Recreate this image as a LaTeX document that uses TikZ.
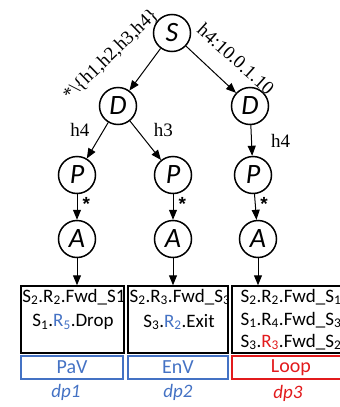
\documentclass[tikz,border=0pt]{standalone}
\usepackage{fontspec}
\setmainfont{Liberation Serif}
\newfontfamily\calfont{Carlito}
\newfontfamily\arfont{Liberation Sans}
\usetikzlibrary{arrows.meta}
\definecolor{vblue}{RGB}{68,114,196}
\definecolor{lred}{RGB}{226,26,28}
\newcommand{\subn}[1]{\textsubscript{#1}}

\begin{document}
\begin{tikzpicture}[x=1pt,y=-1pt,
	st/.style={circle,draw,line width=1.5pt,minimum size=37pt,inner sep=0pt,font=\calfont\itshape\fontsize{28}{28}\selectfont},
	arr/.style={line width=1pt,-{Triangle[length=10pt,width=8pt]}},
	lab/.style={font=\fontsize{19}{19}\selectfont,inner sep=0pt},
	ast/.style={font=\arfont\bfseries\fontsize{19}{19}\selectfont,inner sep=0pt,yshift=-6pt},
	rulebox/.style={draw,line width=1.5pt,inner sep=0pt,minimum height=67pt},
	tagbox/.style={draw,line width=1.2pt,inner sep=0pt,minimum height=23pt,font=\calfont\fontsize{20}{20}\selectfont},
	rl/.style={font=\calfont\fontsize{19}{19}\selectfont,inner sep=0pt},
	dp/.style={font=\calfont\itshape\fontsize{19}{19}\selectfont,inner sep=0pt}]
		\useasboundingbox (0,0) rectangle (340,407);
		\clip (0,0) rectangle (340,407);
		% tree
		\node[st] (S) at (172,33) {S};
		\node[st] (Dl) at (118,106) {D};
		\node[st] (Dr) at (250,106) {D};
		\node[st] (Pl) at (77,175) {P};
		\node[st] (Pm) at (173,175) {P};
		\node[st] (Pr) at (253,175) {P};
		\node[st] (Al) at (77,239) {A};
		\node[st] (Am) at (173,239) {A};
		\node[st] (Ar) at (258,239) {A};
		\node[lab,rotate=44] (hl) at (111,55) {*\textbackslash\{h1,h2,h3,h4\}}; %S->D links
		\node[lab,rotate=-42] (hr) at (236,59) {h4:10.0.1.10};
		\draw[arr] (S) -- (Dl);
		\draw[arr] (S) -- (Dr);
		\draw[arr] (Dl) -- node[lab,pos=.2,left=14pt]{h4} (Pl);
		\draw[arr] (Dl) -- node[lab,pos=.24,right=16pt]{h3} (Pm);
		\draw[arr] (Dr) -- node[lab,pos=.5,right=19pt]{h4} (Pr);
		\draw[arr] (Pl) -- node[ast,pos=.15,right=5pt]{*} (Al);
		\draw[arr] (Pm) -- node[ast,pos=.15,right=5pt]{*} (Am);
		\draw[arr] (Pr) -- node[ast,pos=.15,right=5pt]{*} (Ar);
		% rule boxes
		\node[rulebox,minimum width=103pt] (b1) at (72.5,319.5) {};
		\node[rulebox,minimum width=100pt] (b2) at (178,319.5) {};
		\node[rulebox,minimum width=118pt] (b3) at (291,319.5) {};
		\draw[arr] (Al) -- (Al |- b1.north);
		\draw[arr] (Am) -- (Am |- b2.north);
		\draw[arr] (Ar) -- (Ar |- b3.north);
		\begin{scope}
			\clip (b1.south west) rectangle (b1.north east);
			\node[rl] (r11) at (74,297) {S\subn{2}.R\subn{2}.Fwd\_S1};
			\node[rl] (r12) at (73,322) {S\subn{1}.\textcolor{vblue}{R\subn{5}}.Drop};
		\end{scope}
		\begin{scope}
			\clip (b2.south west) rectangle (b2.north east);
			\node[rl] (r21) at (180,297) {S\subn{2}.R\subn{3}.Fwd\_S\subn{3}};
			\node[rl] (r22) at (179,322) {S\subn{3}.\textcolor{vblue}{R\subn{2}}.Exit};
		\end{scope}
		\begin{scope}
			\clip (b3.south west) rectangle (b3.north east);
			\node[rl] (r31) at (291,297) {S\subn{2}.R\subn{2}.Fwd\_S\subn{1}};
			\node[rl] (r32) at (291,320) {S\subn{1}.R\subn{4}.Fwd\_S\subn{3}};
			\node[rl] (r33) at (291,342) {S\subn{3}.\textcolor{lred}{R\subn{3}}.Fwd\_S\subn{2}};
		\end{scope}
		% verdicts
		\node[tagbox,draw=vblue,text=vblue,minimum width=102pt] (t1) at (72,367.5) {PaV};
		\node[tagbox,draw=vblue,text=vblue,minimum width=100pt] (t2) at (178,367.5) {EnV};
		\node[tagbox,draw=lred,text=lred,minimum width=118pt] (t3) at (291,367.5) {Loop};
		\node[dp,text=vblue] (dp1) at (66,392) {dp1};
		\node[dp,text=vblue] (dp2) at (178,392) {dp2};
		\node[dp,text=lred] (dp3) at (288,393) {dp3};
	\end{tikzpicture}
\end{document}
